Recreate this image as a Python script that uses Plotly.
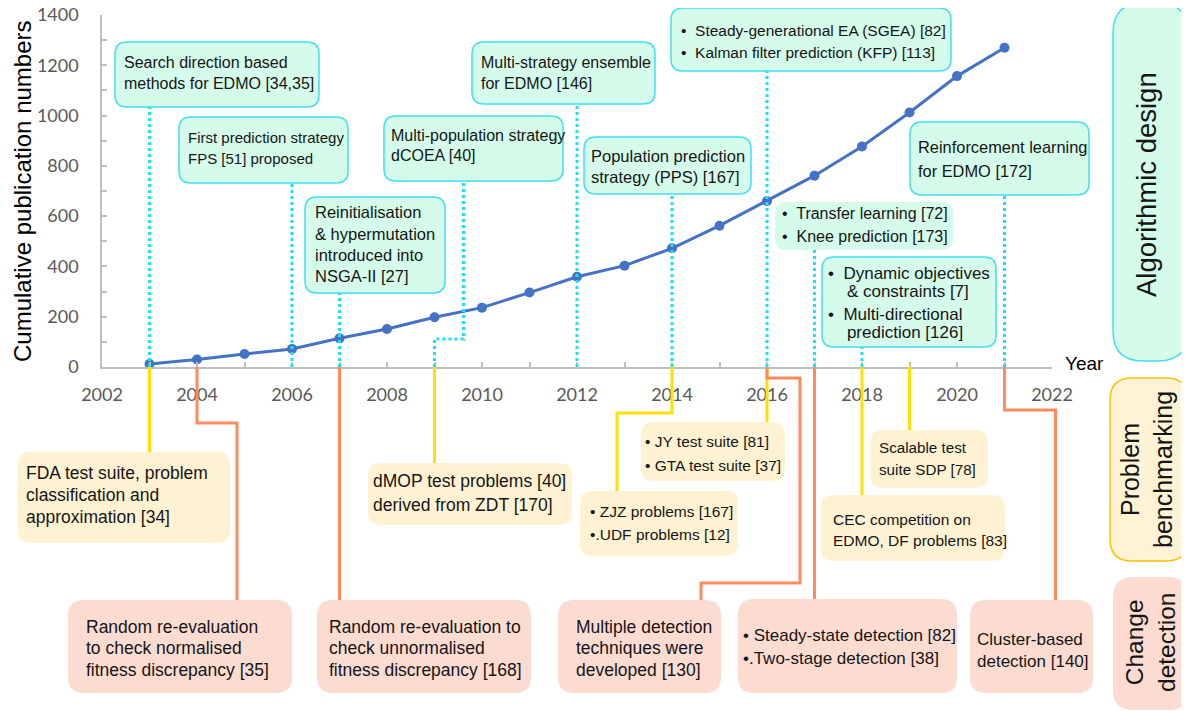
import plotly.graph_objects as go

# ---------------- data ----------------
years = list(range(2003, 2022))
publications = [12, 30, 52, 72, 114, 151, 198, 236, 296, 359, 403, 472,
                562, 660, 761, 877, 1012, 1157, 1270]
x_tick_vals = [2002, 2004, 2006, 2008, 2010, 2012, 2014, 2016, 2018, 2020, 2022]
y_tick_vals = [0, 200, 400, 600, 800, 1000, 1200, 1400]

alg_years = [2003, 2006, 2007, 2009, 2012, 2014, 2016, 2017, 2018, 2021]
alg_texts = [
    ["Search direction based", "methods for EDMO [34,35]"],
    ["First prediction strategy", "FPS [51] proposed"],
    ["Reinitialisation", "& hypermutation", "introduced into", "NSGA-II [27]"],
    ["Multi-population strategy", "dCOEA [40]"],
    ["Multi-strategy ensemble", "for EDMO [146]"],
    ["Population prediction", "strategy (PPS) [167]"],
    ["•\u00a0 Steady-generational EA (SGEA) [82]", "•\u00a0 Kalman filter prediction (KFP) [113]"],
    ["•\u00a0 Transfer learning [72]", "•\u00a0 Knee prediction [173]"],
    ["•\u00a0 Dynamic objectives", "\u00a0\u00a0\u00a0\u00a0& constraints [7]", "•\u00a0 Multi-directional", "\u00a0\u00a0\u00a0\u00a0prediction [126]"],
    ["Reinforcement learning", "for EDMO [172]"],
]
bench_years = [2003, 2009, 2014, 2016, 2018, 2019]
bench_texts = [
    ["FDA test suite, problem", "classification and", "approximation [34]"],
    ["dMOP test problems [40]", "derived from ZDT [170]"],
    ["• ZJZ problems [167]", "•.UDF problems [12]"],
    ["• JY test suite [81]", "• GTA test suite [37]"],
    ["CEC competition on", "EDMO, DF problems [83]"],
    ["Scalable test", "suite SDP [78]"],
]
change_years = [2004, 2007, 2016, 2017, 2021]
change_texts = [
    ["Random re-evaluation", "to check normalised", "fitness discrepancy [35]"],
    ["Random re-evaluation to", "check unnormalised", "fitness discrepancy [168]"],
    ["Multiple detection", "techniques were", "developed [130]"],
    ["• Steady-state detection [82]", "•.Two-stage detection [38]"],
    ["Cluster-based", "detection [140]"],
]
category_labels = ["Algorithmic design", "Problem<br>benchmarking", "Change<br>detection"]

# ---------------- layout geometry (pixels of the target view) ----------------
VIEW_W, VIEW_H = 1189, 711
PAGE_OFFSET = 8                      # default body margin of the html page
FIG_W, FIG_H = VIEW_W - PAGE_OFFSET, VIEW_H - PAGE_OFFSET
X_MIN, X_MAX, Y_MIN, Y_MAX = 2002, 2022, 0, 1400
L, R, T, B = 102, 1052, 15, 367
PX_PER_YEAR = (R - L) / (X_MAX - X_MIN)

def pxp(x):
    return (x - L) / (R - L)

def pyp(y):
    return (B - y) / (B - T)

def year_px(year):
    return L + (year - X_MIN) * PX_PER_YEAR

FONT = "Liberation Sans"
MINT, CYAN = "#d5fbea", "#3fe0f2"
CYAN_LINE = "#19e3fb"
CREAM, YELLOW_LINE = "#fff2d3", "#ffe000"
PINK, ORANGE_LINE = "#fcdcd1", "#ff8a5c"

# box rect (x0,y0,x1,y1), text left x, line y's, font size, border?
alg_boxes = [
    ((115, 42, 319, 107), 122, [62, 83], 16, True),
    ((179, 117, 348, 183), 186, [137, 158], 15, True),
    ((305, 197, 445, 293), 313, [212, 234, 255, 276], 16.5, True),
    ((384, 116, 563, 181), 389, [135, 155], 16, True),
    ((472, 42, 655, 104), 479, [62, 83], 16, True),
    ((584, 137, 751, 194), 589, [156, 177], 16.5, True),
    ((671, 8, 951, 71), 679, [31, 52], 15.5, True),
    ((775, 202, 953, 250), 780, [213, 237], 16, False),
    ((822, 257, 996, 347), 826, [273, 291, 314, 332], 17, True),
    ((910, 122, 1089, 195), 916, [147, 171], 16.4, True),
]
bench_boxes = [
    ((18, 452, 230, 543), 24, [473, 495, 517], 17.5),
    ((368, 463, 572, 525), 371, [481, 505], 17.5),
    ((580, 491, 738, 556), 588, [511, 534], 15.5),
    ((641, 422, 785, 481), 643, [441, 465], 15.5),
    ((821, 495, 1005, 561), 831, [519, 540], 15.5),
    ((870, 430, 988, 488), 877, [448, 469], 15.2),
]
change_boxes = [
    ((68, 600, 292, 693), 84, [627, 648, 670], 17.5),
    ((317, 600, 531, 693), 327, [627, 648, 670], 17.5),
    ((558, 600, 721, 693), 574, [627, 648, 670], 17.5),
    ((738, 599, 957, 693), 741, [635, 658], 17),
    ((970, 600, 1093, 693), 975, [639, 661], 17),
]
# connector routes: (pixel offset from event x, pixel y)
alg_routes = [
    [(0, 367), (0, 107)], [(0, 367), (0, 183)], [(0, 367), (0, 293)],
    [(0, 367), (0, 339), (29, 339), (29, 181)],
    [(0, 367), (0, 104)], [(0, 367), (0, 194)], [(0, 367), (0, 71)],
    [(0, 367), (0, 250)], [(0, 367), (0, 347)], [(0, 367), (0, 195)],
]
bench_routes = [
    [(0, 367), (0, 452)], [(0, 367), (0, 463)],
    [(0, 367), (0, 413), (-55, 413), (-55, 491)],
    [(0, 367), (0, 422)], [(0, 367), (0, 495)], [(0, 367), (0, 430)],
]
change_routes = [
    [(0, 367), (0, 423), (40, 423), (40, 600)],
    [(0, 367), (0, 600)],
    [(0, 367), (0, 378), (33, 378), (33, 583), (-66, 583), (-66, 600)],
    [(0, 367), (0, 599)],
    [(0, 367), (0, 410), (51, 410), (51, 600)],
]
category_boxes = [
    ((1113, 3, 1188, 361), 30, MINT, CYAN, (1146, 185), 27.5),
    ((1110, 378, 1188, 561), 22, "#fff3d6", "#ffc000", (1147, 470), 25),
    ((1113, 577, 1188, 710), 20, PINK, None, (1150, 643), 24.5),
]


def rrect_path(x0, y0, x1, y1, r):
    def P(x, y):
        return f"{pxp(x):.6f},{pyp(y):.6f}"
    return (f"M{P(x0 + r, y0)} L{P(x1 - r, y0)} Q{P(x1, y0)} {P(x1, y0 + r)} "
            f"L{P(x1, y1 - r)} Q{P(x1, y1)} {P(x1 - r, y1)} L{P(x0 + r, y1)} "
            f"Q{P(x0, y1)} {P(x0, y1 - r)} L{P(x0, y0 + r)} Q{P(x0, y0)} {P(x0 + r, y0)} Z")


def route_path(year, route):
    x0 = year_px(year)
    parts = []
    for i, (dx, y) in enumerate(route):
        parts.append(("M" if i == 0 else "L") + f"{pxp(x0 + dx):.6f},{pyp(y):.6f}")
    return " ".join(parts)


shapes = []
annotations = []

def add_text_lines(x, ys, lines, size):
    for y, t in zip(ys, lines):
        annotations.append(dict(x=pxp(x), y=pyp(y), xref="paper", yref="paper",
                                text=t, showarrow=False, xanchor="left", yanchor="middle",
                                font=dict(family=FONT, size=size, color="#151515")))

# connectors
for yr, rt in zip(alg_years, alg_routes):
    shapes.append(dict(type="path", xref="paper", yref="paper", path=route_path(yr, rt),
                       line=dict(color=CYAN_LINE, width=3, dash="dot")))
for yr, rt in zip(bench_years, bench_routes):
    shapes.append(dict(type="path", xref="paper", yref="paper", path=route_path(yr, rt),
                       line=dict(color=YELLOW_LINE, width=3)))
for yr, rt in zip(change_years, change_routes):
    shapes.append(dict(type="path", xref="paper", yref="paper", path=route_path(yr, rt),
                       line=dict(color=ORANGE_LINE, width=3)))

# boxes
for (rect, tx, tys, fs, border), lines in zip(alg_boxes, alg_texts):
    shapes.append(dict(type="path", xref="paper", yref="paper", path=rrect_path(*rect, 12),
                       fillcolor=MINT, line=dict(color=CYAN if border else "rgba(0,0,0,0)", width=1.5)))
    add_text_lines(tx, tys, lines, fs)
for (rect, tx, tys, fs), lines in zip(bench_boxes, bench_texts):
    shapes.append(dict(type="path", xref="paper", yref="paper", path=rrect_path(*rect, 13),
                       fillcolor=CREAM, line=dict(width=0)))
    add_text_lines(tx, tys, lines, fs)
for (rect, tx, tys, fs), lines in zip(change_boxes, change_texts):
    shapes.append(dict(type="path", xref="paper", yref="paper", path=rrect_path(*rect, 16),
                       fillcolor=PINK, line=dict(width=0)))
    add_text_lines(tx, tys, lines, fs)

for (rect, rad, fill, border, (cx, cy), fs), lab in zip(category_boxes, category_labels):
    shapes.append(dict(type="path", xref="paper", yref="paper", path=rrect_path(*rect, rad),
                       fillcolor=fill,
                       line=dict(color=border if border else "rgba(0,0,0,0)", width=1.5)))
    annotations.append(dict(x=pxp(cx), y=pyp(cy), xref="paper", yref="paper", text=lab,
                            showarrow=False, textangle=-90, xanchor="center", yanchor="middle",
                            font=dict(family=FONT, size=fs, color="#151515")))

# axis titles
annotations.append(dict(x=pxp(22), y=pyp(191), xref="paper", yref="paper",
                        text="Cumulative publication numbers", showarrow=False, textangle=-90,
                        xanchor="center", yanchor="middle",
                        font=dict(family=FONT, size=24, color="#000000")))
annotations.append(dict(x=pxp(1063), y=pyp(363), xref="paper", yref="paper",
                        text="Year", showarrow=False, xanchor="left", yanchor="middle",
                        font=dict(family=FONT, size=19, color="#000000")))

fig = go.Figure()
fig.add_trace(go.Scatter(x=years, y=publications, mode="lines+markers",
                         line=dict(color="#4472c4", width=3),
                         marker=dict(color="#4472c4", size=10),
                         hoverinfo="x+y", cliponaxis=False))

axis_font = dict(family="Lato", size=18, color="#595959")
fig.update_xaxes(range=[X_MIN, X_MAX], tickvals=x_tick_vals, showgrid=False, zeroline=False,
                 showline=True, linecolor="#bfbfbf", linewidth=1.5,
                 ticks="inside", ticklen=5, tickcolor="#bfbfbf", tickwidth=1.5,
                 minor=dict(dtick=1, ticks="inside", ticklen=5, tickcolor="#bfbfbf", tickwidth=1.5),
                 tickfont=axis_font, ticklabelstandoff=11, ticklabeloverflow="allow",
                 automargin=False)
fig.update_yaxes(range=[Y_MIN, Y_MAX], tickvals=y_tick_vals, showgrid=False, zeroline=False,
                 showline=True, linecolor="#bfbfbf", linewidth=1.5,
                 ticks="inside", ticklen=5, tickcolor="#bfbfbf", tickwidth=1.5,
                 minor=dict(dtick=100, ticks="inside", ticklen=5, tickcolor="#bfbfbf", tickwidth=1.5),
                 tickfont=axis_font, ticklabelstandoff=18, ticklabeloverflow="allow",
                 automargin=False)

fig.update_layout(width=FIG_W, height=FIG_H,
                  margin=dict(l=L - PAGE_OFFSET, r=VIEW_W - R, t=T - PAGE_OFFSET, b=VIEW_H - B),
                  plot_bgcolor="white", paper_bgcolor="white", showlegend=False,
                  shapes=shapes, annotations=annotations)

fig.write_html("out.html")
